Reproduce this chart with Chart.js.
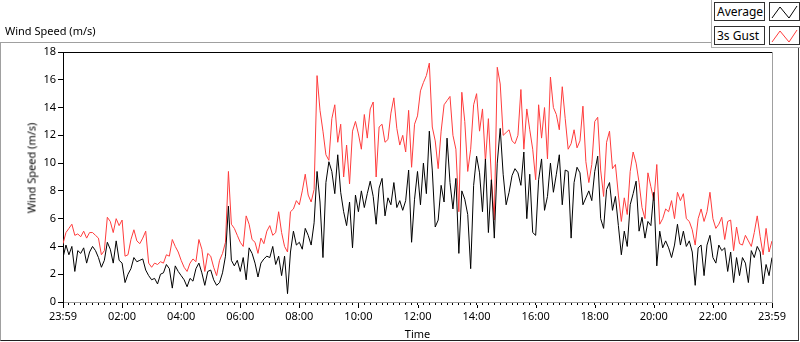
<!DOCTYPE html>
<html>
<head>
<meta charset="utf-8">
<title>Wind Speed</title>
<script src="https://cdn.jsdelivr.net/npm/chart.js@4.4.1/dist/chart.umd.min.js"></script>
<style>
  html, body { margin: 0; padding: 0; background: #fff; }
  #wrap { position: relative; width: 800px; height: 342px; overflow: hidden;
          font-family: "Noto Sans", sans-serif; font-size: 11px; color: #000; }
  #frame { position: absolute; left: 0; top: 42px; width: 797px; height: 297px;
           border-top: 1px solid #a0a0a0; border-left: 1px solid #a0a0a0;
           border-right: 1px solid #404040; border-bottom: 1px solid #202020; }
  #title { position: absolute; left: 5px; top: 23px; white-space: nowrap; }
  #ytitle { position: absolute; left: 31px; top: 168px; white-space: nowrap;
            transform: translate(-50%, -50%) rotate(-90deg); }
  canvas { position: absolute; left: 0; top: 0; }
  #legend { position: absolute; left: 711px; top: 0; width: 89px; height: 47px; background: #fff;
            border-left: 1px solid #b0b0b0; border-bottom: 1px solid #b0b0b0; }
  .row { position: absolute; left: 2px; display: flex; }
  .name { width: 47px; height: 17px; border: 1px solid #303030; line-height: 17px; padding-left: 2px; box-sizing: content-box; font-size: 12px; }
  .swatch { margin-left: 4px; width: 29px; height: 17px; border: 1px solid #303030; }
</style>
</head>
<body>
<div id="wrap">
  <div id="frame"></div>
  <canvas id="windChart" width="800" height="342"></canvas>
  <div id="title">Wind Speed (m/s)</div>
  <div id="ytitle">Wind Speed (m/s)</div>
  <div id="legend">
    <div class="row" style="top:2px">
      <div class="name">Average</div>
      <svg class="swatch" viewBox="0 0 29 17"><polyline points="2,15 10,4 19,15 27,3" fill="none" stroke="#000" stroke-width="1"/></svg>
    </div>
    <div class="row" style="top:26px">
      <div class="name">3s Gust</div>
      <svg class="swatch" viewBox="0 0 29 17"><polyline points="2,15 10,4 19,15 27,3" fill="none" stroke="#ff3c3c" stroke-width="1"/></svg>
    </div>
  </div>
</div>
<script>
// one reading every 6 minutes, 23:59 -> 23:59 (10 readings per hour)
const sampleMinutes = 6;
const tickLabels = ['23:59', '02:00', '04:00', '06:00', '08:00', '10:00', '12:00',
                    '14:00', '16:00', '18:00', '20:00', '22:00', '23:59'];

const gust = [
  4.2, 5.0, 5.3, 5.6, 4.8, 4.9, 4.7, 5.1, 4.6, 5.0,
  5.0, 4.8, 4.6, 3.4, 3.7, 6.1, 5.8, 5.0, 6.0, 5.5,
  5.9, 3.3, 3.4, 4.5, 5.2, 4.4, 4.2, 4.6, 5.1, 2.8,
  2.5, 2.8, 2.7, 2.9, 2.8, 3.4, 3.3, 4.5, 4.0, 3.6,
  3.0, 2.5, 2.2, 2.8, 3.1, 2.9, 4.5, 3.8, 2.2, 3.5,
  3.3, 2.5, 1.9, 3.0, 3.5, 4.3, 9.4, 5.6, 5.3, 4.8,
  4.3, 4.0, 6.2, 5.6, 4.5, 4.3, 3.5, 4.6, 4.2, 5.1,
  5.5, 4.8, 5.0, 6.5, 5.0, 4.0, 3.6, 6.5, 6.7, 7.3,
  7.0, 8.0, 9.2, 7.7, 7.2, 8.1, 16.3, 13.8, 12.3, 10.6,
  10.2, 13.2, 14.2, 11.5, 12.8, 9.0, 11.3, 8.5, 12.3, 13.0,
  12.1, 11.0, 13.5, 11.8, 13.9, 14.4, 9.0, 12.6, 12.8, 11.5,
  11.7, 13.6, 14.7, 12.5, 11.3, 12.0, 10.8, 13.8, 9.7, 12.8,
  13.4, 15.2, 15.8, 16.3, 17.2, 12.6, 11.6, 9.6, 12.3, 14.2,
  14.5, 14.8, 12.0, 11.0, 6.5, 15.1, 13.0, 9.4, 11.0, 14.2,
  15.0, 12.3, 13.9, 10.1, 13.2, 9.0, 5.9, 16.9, 15.7, 12.0,
  12.2, 12.4, 11.6, 11.4, 12.0, 15.3, 11.0, 13.9, 12.4, 11.0,
  8.8, 14.2, 11.8, 14.0, 10.3, 16.2, 14.0, 13.5, 12.4, 15.5,
  13.2, 11.0, 11.4, 12.4, 11.1, 11.6, 14.1, 10.1, 8.6, 9.9,
  13.0, 13.3, 9.5, 7.6, 11.5, 12.3, 9.6, 9.9, 7.7, 5.8,
  7.5, 6.3, 9.4, 10.8, 10.0, 8.6, 6.8, 6.0, 9.3, 8.3,
  7.3, 9.9, 5.6, 6.0, 6.7, 6.5, 7.3, 6.0, 7.9, 7.3,
  7.8, 6.0, 5.8, 5.2, 4.1, 6.0, 6.7, 5.8, 6.5, 7.9,
  6.0, 5.3, 5.6, 6.1, 4.5, 5.8, 5.9, 3.7, 5.4, 4.2,
  4.1, 4.8, 4.4, 4.0, 5.0, 6.2, 4.7, 3.4, 5.3, 3.6, 4.4
];

const average = [
  3.2, 4.1, 3.4, 4.0, 2.2, 3.7, 3.5, 3.9, 2.8, 3.6,
  4.0, 3.7, 3.2, 2.5, 3.0, 4.3, 3.8, 2.8, 4.4, 3.0,
  2.8, 1.4, 2.0, 2.4, 3.2, 2.9, 3.0, 3.1, 2.3, 1.9,
  1.6, 1.7, 1.3, 2.0, 2.1, 2.7, 2.4, 1.0, 2.6, 2.2,
  1.9, 1.6, 1.1, 1.7, 1.5, 2.4, 2.8, 2.1, 1.2, 2.2,
  2.3, 1.6, 1.2, 1.4, 2.1, 3.3, 6.9, 3.0, 2.6, 3.0,
  2.2, 3.2, 1.6, 3.9, 3.5, 2.8, 1.8, 2.8, 3.1, 3.3,
  3.2, 4.0, 2.7, 3.3, 1.9, 3.3, 0.6, 3.6, 5.1, 4.1,
  4.3, 3.8, 5.3, 4.8, 4.1, 5.7, 9.4, 7.2, 3.2, 8.6,
  10.1, 9.4, 7.8, 10.6, 7.9, 6.5, 5.5, 7.2, 3.9, 7.7,
  6.5, 8.0, 6.8, 7.8, 8.7, 7.6, 5.6, 8.2, 8.9, 6.2,
  7.5, 7.0, 8.6, 6.8, 7.3, 6.6, 7.3, 9.5, 4.3, 7.4,
  9.4, 7.0, 10.0, 7.8, 12.3, 9.5, 5.4, 5.9, 8.4, 7.2,
  11.8, 8.6, 6.7, 8.9, 3.5, 8.0, 7.4, 6.3, 2.4, 8.4,
  10.5, 9.3, 6.5, 10.3, 5.0, 8.8, 4.6, 10.0, 12.5, 9.2,
  7.0, 7.9, 9.1, 9.6, 9.3, 8.4, 10.8, 6.0, 9.2, 5.0,
  4.8, 8.8, 10.3, 6.6, 7.6, 10.0, 7.9, 9.2, 10.6, 7.0,
  9.5, 9.4, 4.6, 8.6, 9.7, 9.3, 7.0, 7.5, 8.0, 7.3,
  9.4, 10.5, 6.0, 5.3, 8.1, 8.6, 6.6, 7.6, 5.5, 3.4,
  5.1, 4.0, 7.0, 7.8, 8.7, 5.1, 6.1, 4.6, 5.8, 5.5,
  7.9, 2.6, 5.1, 3.9, 4.4, 3.9, 3.2, 4.1, 5.6, 4.1,
  5.1, 4.0, 4.4, 3.6, 1.2, 3.9, 4.1, 1.9, 4.1, 4.8,
  3.2, 2.8, 4.1, 3.7, 3.9, 2.2, 3.6, 1.4, 3.2, 1.9,
  3.2, 2.8, 1.4, 3.7, 3.2, 4.0, 3.6, 1.3, 2.7, 1.9, 3.2
];

const toPoints = arr => arr.map((v, i) => ({ x: i * sampleMinutes, y: v }));

Chart.defaults.font.family = '"Noto Sans", sans-serif';
Chart.defaults.font.size = 11;
Chart.defaults.color = '#000';

// longer tick marks on the labelled (2 hour) ticks
const majorTicks = {
  id: 'majorTicks',
  afterDraw(chart) {
    const sx = chart.scales.x;
    const ctx = chart.ctx;
    const y0 = chart.chartArea.bottom;
    ctx.save();
    ctx.strokeStyle = '#000';
    ctx.lineWidth = 1;
    sx.ticks.forEach(t => {
      if (t.value % 120 !== 0) return;
      const px = Math.round(sx.getPixelForValue(t.value)) + 0.5;
      ctx.beginPath();
      ctx.moveTo(px, y0 + 3);
      ctx.lineTo(px, y0 + 6);
      ctx.stroke();
    });
    ctx.restore();
  }
};

new Chart(document.getElementById('windChart'), {
  type: 'line',
  data: {
    datasets: [
      { label: 'Average', data: toPoints(average), borderColor: '#000', borderWidth: 1,
        pointRadius: 0, tension: 0 },
      { label: '3s Gust', data: toPoints(gust), borderColor: '#ff3c3c', borderWidth: 1,
        pointRadius: 0, tension: 0 }
    ]
  },
  options: {
    responsive: false,
    animation: false,
    layout: { padding: { left: 20, top: 52, right: 28, bottom: 0 } },
    plugins: { legend: { display: false }, tooltip: { enabled: false } },
    scales: {
      x: {
        type: 'linear', min: 0, max: 1440,
        afterBuildTicks: s => {
          const t = [];
          for (let m = 0; m <= 1440; m += 12) t.push({ value: m });
          s.ticks = t;
        },
        afterFit: s => { s.height = 40; },
        ticks: { autoSkip: false, maxRotation: 0, padding: 5,
                 callback: v => (v % 120 === 0 ? tickLabels[v / 120] : '') },
        grid: { drawOnChartArea: false, tickLength: 3, tickColor: '#000' },
        border: { color: '#a0a0a0' },
        title: { display: true, text: 'Time', padding: { top: 0, bottom: 1 } }
      },
      y: {
        min: 0, max: 18,
        afterFit: s => { s.width = 43; },
        ticks: { stepSize: 2, padding: 2 },
        grid: { drawOnChartArea: false, tickLength: 5, tickColor: '#000' },
        border: { color: '#000' }
      },
      xTop: {
        type: 'linear', position: 'top', min: 0, max: 1440,
        afterFit: s => { s.height = 0; },
        ticks: { display: false },
        grid: { drawOnChartArea: false, drawTicks: false },
        border: { color: '#000' }
      },
      yRight: {
        position: 'right', min: 0, max: 18,
        afterFit: s => { s.width = 0; },
        ticks: { display: false },
        grid: { drawOnChartArea: false, drawTicks: false },
        border: { color: '#a0a0a0' }
      }
    }
  },
  plugins: [majorTicks]
});
</script>
</body>
</html>
